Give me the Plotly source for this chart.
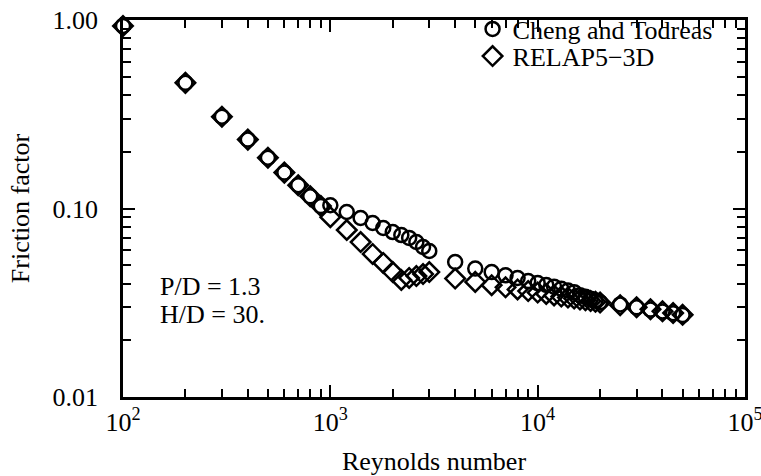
import plotly.graph_objects as go

# Friction factor vs Reynolds number, wire-wrapped bundle P/D = 1.3, H/D = 30
re_cheng = [100, 200, 300, 400, 500, 600, 700, 800, 900,
            1000, 1200, 1400, 1600, 1800, 2000, 2200, 2400, 2600, 2800, 3000,
            4000, 5000, 6000, 7000, 8000, 9000, 10000, 11000, 12000, 13000,
            14000, 15000, 16000, 17000, 18000, 19000, 20000,
            25000, 30000, 35000, 40000, 45000, 50000]
f_cheng = [0.93, 0.464, 0.307, 0.232, 0.186, 0.155, 0.133, 0.116, 0.103,
           0.104, 0.0958, 0.089, 0.0838, 0.0788, 0.075, 0.0723, 0.0698, 0.0664, 0.0625, 0.0595,
           0.052, 0.048, 0.046, 0.0442, 0.0428, 0.0412, 0.0402, 0.0393, 0.0385, 0.0375,
           0.0367, 0.036, 0.0347, 0.034, 0.0332, 0.0325, 0.0318,
           0.031, 0.0299, 0.0291, 0.0284, 0.0278, 0.0272]

re_relap = list(re_cheng)
f_relap = [0.93, 0.464, 0.307, 0.232, 0.186, 0.155, 0.133, 0.116, 0.103,
           0.090, 0.0769, 0.0664, 0.0574, 0.0514, 0.046, 0.0418, 0.0428, 0.0438, 0.0449, 0.046,
           0.0425, 0.0408, 0.0392, 0.0382, 0.0372, 0.0365, 0.0358, 0.0352, 0.0346, 0.0341,
           0.0337, 0.0333, 0.0329, 0.0326, 0.0323, 0.032, 0.0317,
           0.0307, 0.0299, 0.0292, 0.0285, 0.0279, 0.0273]

x_ticks = [1e2, 1e3, 1e4, 1e5]
x_ticktext = ["10<sup>2</sup>", "10<sup>3</sup>", "10<sup>4</sup>", "10<sup>5</sup>"]
y_ticks = [0.01, 0.1, 1.0]
y_ticktext = ["0.01", "0.10", "1.00"]

FONT = "Liberation Serif"
FS = 26

fig = go.Figure()
fig.add_trace(go.Scatter(
    x=re_cheng, y=f_cheng, mode="markers", name="Cheng and Todreas",
    marker=dict(symbol="circle-open", size=14, color="black", line=dict(width=2.5)),
    cliponaxis=False, legend="legend",
))
fig.add_trace(go.Scatter(
    x=re_relap, y=f_relap, mode="markers", name="RELAP5\u22123D",
    marker=dict(symbol="diamond-open", size=15, color="black", line=dict(width=2.5)),
    cliponaxis=False, legend="legend2",
))

axis_common = dict(
    type="log", showgrid=False, zeroline=False, automargin=False,
    showline=True, linecolor="black", linewidth=2.5, mirror="allticks",
    ticks="inside", ticklen=12, tickwidth=2, tickcolor="black",
    tickfont=dict(family=FONT, size=FS, color="black"),
    ticklabeloverflow="allow",
    minor=dict(ticks="inside", ticklen=8, tickwidth=2, tickcolor="black",
               dtick="D1", showgrid=False),
)

fig.update_xaxes(
    **axis_common, range=[2, 5], tickvals=x_ticks, ticktext=x_ticktext,
    title=dict(text="Reynolds number", font=dict(family=FONT, size=FS, color="black"),
               standoff=21),
)
fig.update_yaxes(
    **axis_common, range=[-2, 0], tickvals=y_ticks, ticktext=y_ticktext,
    ticklabelstandoff=17,
    title=dict(text="Friction factor", font=dict(family=FONT, size=FS, color="black"),
               standoff=16),
)

for txt, yp in [("P/D = 1.3", 0.292), ("H/D = 30.", 0.220)]:
    fig.add_annotation(
        x=0.056, y=yp, xref="paper", yref="paper", xanchor="left", yanchor="middle",
        text=txt, showarrow=False, align="left",
        font=dict(family=FONT, size=FS, color="black"),
    )

legend_common = dict(
    xanchor="left", yanchor="middle",
    bgcolor="rgba(0,0,0,0)", borderwidth=0,
    font=dict(family=FONT, size=FS, color="black"),
    itemwidth=30,
)

fig.update_layout(
    width=761, height=476,
    margin=dict(l=123, r=16, t=20, b=79, autoexpand=False),
    paper_bgcolor="white", plot_bgcolor="white",
    showlegend=True,
    legend=dict(x=0.562, y=0.976, **legend_common),
    legend2=dict(x=0.562, y=0.904, **legend_common),
    font=dict(family=FONT, color="black"),
)

fig.write_html("out.html")
